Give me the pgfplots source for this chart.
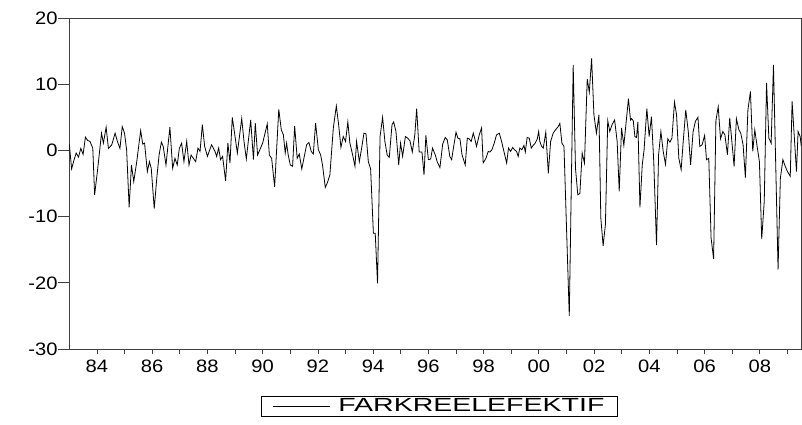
\documentclass[border=0pt]{standalone}
\usepackage{pgfplots}
\pgfplotsset{compat=1.18}
\usepackage{graphicx}
\usepackage{fontspec}
\setmainfont{Liberation Sans}
\newcommand{\sx}[1]{\scalebox{1.12}[1]{#1}}
\begin{document}
\begin{tikzpicture}
\useasboundingbox (0,0) rectangle (802pt,424pt);
\begin{axis}[
  at={(69.3pt,75pt)}, anchor=south west,
  width=732pt, height=331pt, scale only axis,
  xmin=0, xmax=318, ymin=-30, ymax=20,
  axis line style={line width=0.8pt, black!75},
  xtick={12,24,...,312},
  xticklabels={\sx{84},,\sx{86},,\sx{88},,\sx{90},,\sx{92},,\sx{94},,\sx{96},,\sx{98},,\sx{00},,\sx{02},,\sx{04},,\sx{06},,\sx{08},},
  ytick={-30,-20,-10,0,10,20},
  yticklabels={\sx{-30},\sx{-20},\sx{-10},\sx{0},\sx{10},\sx{20}},
  xtick pos=bottom, ytick pos=left,
  tick align=outside,
  x tick style={line width=0.8pt, black!75, /pgfplots/major tick length=5pt},
  y tick style={line width=0.8pt, black!75, /pgfplots/major tick length=11pt},
  tick label style={font=\fontsize{18}{20}\selectfont},
  yticklabel style={xshift=-4pt},
  xticklabel style={yshift=-3pt},
  legend style={at={(0.5057,-0.142)}, anchor=north, draw=black, line width=0.8pt,
    font=\fontsize{19}{22}\selectfont, inner xsep=11pt, inner ysep=0.5pt,
    /tikz/every odd column/.append style={column sep=6pt}},
  legend image code/.code={\draw[#1] (0pt,0pt) -- (57pt,0pt);},
]
\addplot[black, line width=0.8pt] coordinates {
(0,1.0) (1,-2.8) (2,-1.5) (3,-0.4) (4,-1.0) (5,0.3) (6,-0.6) (7,2.0) (8,1.5)
(9,1.35) (10.2,0.34) (11,-6.7) (12.2,-3.2) (14,2.6) (14.8,1.1) (16,3.5) (17,0.3) (18.4,0.8) (19.9,2.6) (20.9,1.35) (22,0.3) (23,3.6) (24,2.6) (24.9,0.1) (26,-8.6) (27,-2.2) (28,-4.7) (29.3,-1.7) (31,3.0) (31.9,0.95) (32.7,1.1) (33.9,-3.2) (34.8,-1.7) (35.6,-2.7) (36.9,-8.8) (38,-4.2) (39,-0.7) (40,1.25) (40.8,0.6) (42,-2.2) (43.7,3.5) (44.9,-2.7) (45.9,-1.2) (46.9,-2.2) (47.8,0.3)
(48.8,1.1) (49.8,-1.7) (51,1.35) (52,-2.2) (52.9,-0.7) (53.9,-1.2) (54.9,-1.7) (55.9,0.35) (56.8,-0.15) (57.8,3.9) (58.8,0.6) (60,-0.9) (61.8,0.85) (63.3,-0.15) (64,-0.9) (64.9,0.35) (65.7,-1.4) (66.6,-0.9) (67.9,-4.6) (68.9,1.1) (69.8,-1.9) (70.8,5.0) (71.8,2.6) (73,-0.4) (74.9,4.8) (75.9,1.35) (76.9,-1.3) (78.8,4.6) (80,-1.4) (80.8,4.1) (81.8,-0.7) (84,1.1) (86,4.0) (86.9,-0.7) (87.9,-1.2)
(89.2,-5.5) (91,6.2) (92.1,3.1) (93,2.35) (93.8,-0.4) (94.4,1.1) (95.1,-0.7) (96,-2.2) (97,-2.4) (97.9,3.7) (99,-1.2) (99.9,-0.55) (101,-2.8) (102.2,-0.7) (103.1,0.85) (104.1,1.2) (105.1,-0.15) (106,-0.55) (107,4.1) (108.2,0.1) (109.2,-0.7) (110,-2.2) (111.2,-5.6) (112.1,-4.9) (113.2,-3.7) (114.7,3.4) (116,6.7) (117,3.9) (118,0.45) (119,2.1) (120,1.35) (121,4.3) (121.9,1.1) (123.1,-0.7) (124.1,-2.4) (124.8,1.35) (126,-1.7)
(127,0.35) (128,2.6) (128.9,2.5) (129.9,-1.7) (130.9,-2.8) (132.1,-12.5) (132.9,-12.5) (133.9,-20.1) (135,2.1) (136.1,5.0) (137.1,1.35) (138.1,-0.7) (139,-1.05) (140.2,3.9) (140.9,4.3) (141.9,2.9) (143.1,-2.2) (143.9,1.1) (144.8,-0.9) (146,2.1) (147,1.85) (148,1.45) (149,-0.25) (150.1,2.35) (150.9,6.3) (152,-0.25) (153.2,-0.25) (154.1,-3.7) (154.9,2.25) (156,-1.4) (157,-1.3) (157.8,0.35) (159,-0.7) (159.8,-1.7) (161,-2.6) (162.2,0.95) (163.3,1.95) (164.2,1.6) (165.3,-0.9)
(166.1,-1.4) (167.1,0.85) (168,2.75) (168.8,1.85) (169.7,1.75) (170.6,-0.65) (171.1,-1.2) (172,-2.2) (172.9,1.85) (173.7,1.75) (174.6,1.35) (175.5,2.6) (176.1,1.85) (176.9,0.6) (178.1,2.35) (179.1,3.4) (179.8,-1.9) (181,-1.2) (182,-0.15) (182.7,-0.25) (183.6,0.1) (184.6,1.1) (185.6,2.35) (186.8,2.6) (187.8,1.35) (188.8,-0.15) (190,-1.9) (190.8,0.35) (191.7,-0.15) (192.6,0.45) (193.4,0.1) (194.3,-0.15) (195,-0.9) (195.7,0.35) (196.6,0.1) (197.5,0.75) (198.1,-0.25) (198.9,1.95) (199.8,1.85) (200.7,0.35) (201.5,0.75) (202.4,1.1) (203.3,1.75) (203.9,2.85) (204.4,1.35)
(205.2,0.6) (205.9,0.35) (207,2.75) (208.1,-3.45) (209.1,1.35) (210.2,2.6) (211.2,3.1) (212.4,3.6) (213.1,4.1) (214,1.1) (214.9,0.6) (216,-11.7) (217.2,-25) (218.9,12.9) (219.9,-2.7) (220.9,-6.7) (221.8,-6.5) (222.8,-0.4) (223.8,-1.9) (225,10.8) (225.9,8.8) (226.9,13.9) (227.9,5.4) (229,2.6) (230.1,5.4) (230.9,-10.2) (231.9,-14.4) (232.9,-11.2) (233.9,4.5) (234.8,2.85) (235.8,3.9) (236.9,4.6) (238,1.35) (238.9,-6.2) (239.9,3.4) (240.9,0.75) (241.8,3.9) (242.9,7.8) (243.8,4.6)
(244.2,4.8) (245,4.5) (245.7,2.1) (246.4,1.95) (247,4.3) (247.9,-8.6) (248.9,-2.2) (249.7,0.1) (250.9,6.3) (251.9,2.1) (252.9,5.1) (253.9,-1.7) (255.1,-14.3) (256,-0.65) (257,2.85) (258,-0.15) (259,-2.1) (260,1.75) (260.9,1.25) (261.8,1.85) (262.9,7.3) (263.8,5.4) (264.8,-1.2) (265.8,-2.9) (266.7,1.35) (267.8,6.1) (268.9,2.85) (269.9,-2.2) (271,2.85) (272,4.4) (273.1,5.0) (273.9,0.6) (274.9,0.85) (276,2.25) (276.8,-1.4) (277.8,-1.2) (278.8,-13.2) (279.9,-16.4) (280.9,4.5)
(281.9,6.6) (282.9,1.75) (283.9,2.85) (284.8,2.35) (285.9,-0.65) (286.9,4.9) (287.9,1.1) (288.8,-2.4) (289.8,4.8) (290.9,3.1) (291.7,2.6) (292.7,0.85) (293.7,-4.1) (294.8,6.1) (295.9,8.9) (296.9,-0.15) (297.8,3.1) (298.8,0.6) (299.8,-1.7) (300.8,-13.4) (301.9,-7.7) (302.9,10.2) (303.9,1.85) (304.9,1.1) (305.9,12.9) (306.9,-2.4) (307.9,-18.0) (308.9,-4.2) (310,-1.4) (311,-2.4) (312,-3.2) (313.2,-3.9) (314,7.4) (314.9,2.35) (315.9,-3.2) (316.6,2.85) (317.5,2.1) (318,0.6)
};
\addlegendentry{\scalebox{1.5}[1]{FARKREELEFEKTIF}\hspace{9pt}}
\end{axis}
\end{tikzpicture}
\end{document}
